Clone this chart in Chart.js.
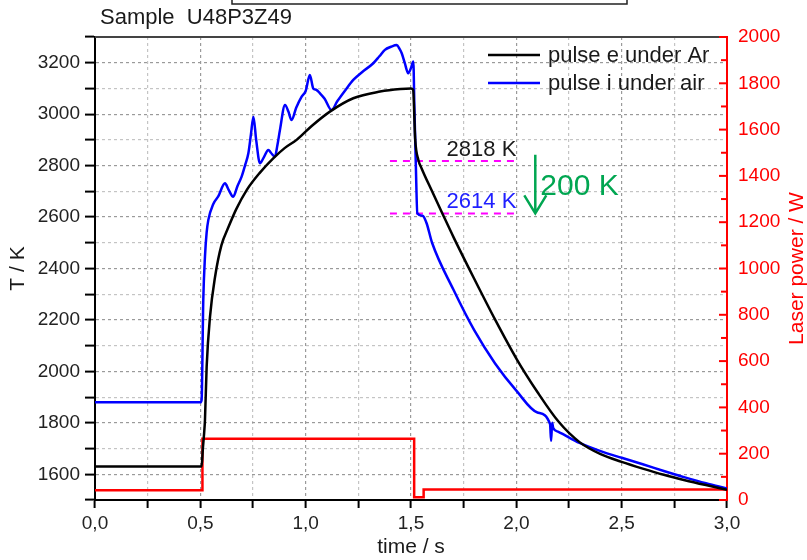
<!DOCTYPE html>
<html>
<head>
<meta charset="utf-8">
<script src="https://cdn.jsdelivr.net/npm/chart.js@4.4.1/dist/chart.umd.min.js"></script>
<style>
  html, body { margin: 0; padding: 0; background: #fff; }
</style>
</head>
<body>
<canvas id="chart" width="807" height="560"></canvas>
<script>
// pulse e under Ar (black trace), time in s, temperature in K
const arTime = [0, 0.506, 0.512, 0.518, 0.522, 0.53, 0.546, 0.57, 0.6, 0.633, 0.67, 0.72, 0.78, 0.846,
  0.9, 0.957, 1.03, 1.115, 1.226, 1.353, 1.45, 1.5, 1.51, 1.52, 1.535, 1.55, 1.6, 1.65, 1.7, 1.8, 1.9, 2.0,
  2.1, 2.2, 2.3, 2.4, 2.5, 2.6, 2.7, 2.8, 2.9, 3.0];
const arTemp = [1630, 1630, 1700, 1760, 1811, 2018, 2213, 2368, 2490, 2560, 2630, 2705, 2770, 2828,
  2868, 2900, 2955, 3010, 3062, 3088, 3098, 3100, 3095, 2900, 2822, 2790, 2700, 2612, 2525, 2360, 2200, 2050,
  1920, 1805, 1725, 1678, 1648, 1622, 1598, 1577, 1558, 1540];

// pulse i under air (blue trace)
const airTime = [0, 0.5, 0.506, 0.514, 0.522, 0.53, 0.538, 0.561, 0.585, 0.617, 0.635, 0.656, 0.676,
  0.696, 0.712, 0.728, 0.74, 0.752, 0.765, 0.783, 0.8, 0.823, 0.835, 0.854, 0.866, 0.878, 0.902, 0.918,
  0.933, 0.955, 0.981, 1.0, 1.02, 1.036, 1.05, 1.068, 1.09, 1.123, 1.15, 1.19, 1.226, 1.27, 1.321, 1.35,
  1.376, 1.405, 1.432, 1.445, 1.456, 1.47, 1.487, 1.5, 1.511, 1.516, 1.523, 1.53, 1.555, 1.574, 1.6,
  1.7, 1.8, 1.9, 2.0, 2.1, 2.16, 2.165, 2.17, 2.175, 2.2, 2.3, 2.4, 2.5, 2.6, 2.7, 2.8, 2.9, 3.0];
const airTemp = [1880, 1880, 1889, 2278, 2446, 2540, 2589, 2650, 2680, 2731, 2705, 2679, 2720,
  2757, 2800, 2848, 2920, 2990, 2900, 2809, 2830, 2861, 2850, 2835, 2880, 2939, 3036, 3010,
  2977, 3025, 3068, 3090, 3152, 3100, 3095, 3081, 3060, 3016, 3050, 3095, 3133, 3165, 3198, 3225,
  3250, 3262, 3269, 3255, 3237, 3200, 3159, 3180, 3205, 3030, 2800, 2615, 2605, 2576, 2500,
  2320, 2160, 2030, 1925, 1840, 1795, 1730, 1800, 1780, 1765, 1722, 1690, 1664, 1639, 1613, 1588, 1565, 1545];

// laser power (red trace, right axis), W
const laserTime = [0, 0.51, 0.51, 1.515, 1.515, 1.56, 1.56, 3.0];
const laserPower = [42, 42, 265, 265, 12, 12, 45, 45];

// reference temperatures marked with dashed lines
const refTemps = [2818, 2614];
const refLabels = ['2818 K', '2614 K'];
const refColors = ['#1a1a1a', '#2020ff'];
const refStart = 1.4;
const refEnd = 2.0;
const dropLabel = '200 K';

const FONT = '"Liberation Sans", Arial, sans-serif';
Chart.defaults.font.family = FONT;

function pts(xs, ys) {
  return xs.map((t, i) => ({ x: t, y: ys[i] }));
}

const datasets = [
  { label: 'pulse e under Ar', data: pts(arTime, arTemp), borderColor: '#000000', borderWidth: 2.5,
    cubicInterpolationMode: 'monotone', yAxisID: 'y' },
  { label: 'pulse i under air', data: pts(airTime, airTemp), borderColor: '#0000ff', borderWidth: 2.5,
    cubicInterpolationMode: 'monotone', yAxisID: 'y' },
  { label: 'laser', data: pts(laserTime, laserPower), borderColor: '#ff0000', borderWidth: 2.5, yAxisID: 'y2' }
];
refTemps.forEach(v => {
  datasets.push({
    label: 'ref', data: [{ x: refStart, y: v }, { x: refEnd, y: v }],
    borderColor: '#ff00ff', borderWidth: 2, borderDash: [7, 6], yAxisID: 'y'
  });
});

const isMajor = (v, step) => Math.abs(v / step - Math.round(v / step)) < 1e-6;

const extras = {
  id: 'extras',
  beforeDraw(chart) {
    const ctx = chart.ctx;
    ctx.save();
    // title
    ctx.fillStyle = '#1a1a1a';
    ctx.font = '22px ' + FONT;
    ctx.textBaseline = 'alphabetic';
    ctx.textAlign = 'left';
    ctx.fillText('Sample  U48P3Z49', 100, 24);
    // box cut off at the top edge
    ctx.strokeStyle = '#222';
    ctx.lineWidth = 1.5;
    ctx.beginPath();
    ctx.moveTo(232, 0); ctx.lineTo(232, 4); ctx.lineTo(627, 4); ctx.lineTo(627, 0);
    ctx.stroke();
    ctx.restore();
  },
  afterDraw(chart) {
    const { ctx, chartArea: a, scales } = chart;
    const x = scales.x, y = scales.y, y2 = scales.y2;
    ctx.save();
    // top frame
    ctx.strokeStyle = '#444';
    ctx.lineWidth = 2;
    ctx.beginPath(); ctx.moveTo(a.left, a.top); ctx.lineTo(a.right, a.top); ctx.stroke();
    // inward ticks on the laser axis
    ctx.strokeStyle = '#ff0000';
    y2.ticks.forEach(t => {
      const py = y2.getPixelForValue(t.value);
      const len = isMajor(t.value, 200) ? 8 : 6;
      ctx.beginPath(); ctx.moveTo(a.right - len, py); ctx.lineTo(a.right, py); ctx.stroke();
    });
    // laser axis title, reading bottom to top
    ctx.save();
    ctx.translate(797, (a.top + a.bottom) / 2);
    ctx.rotate(-Math.PI / 2);
    ctx.fillStyle = '#ff0000';
    ctx.font = '21px ' + FONT;
    ctx.textAlign = 'center';
    ctx.textBaseline = 'middle';
    ctx.fillText('Laser power / W', 0, 0);
    ctx.restore();

    // reference labels
    ctx.font = '22px ' + FONT;
    ctx.textAlign = 'right';
    ctx.textBaseline = 'alphabetic';
    refTemps.forEach((v, i) => {
      ctx.fillStyle = refColors[i];
      ctx.fillText(refLabels[i], x.getPixelForValue(refEnd), y.getPixelForValue(v) - 5);
    });

    // green arrow and drop label
    const ax = x.getPixelForValue(2.09);
    const top = y.getPixelForValue(2842);
    const tip = y.getPixelForValue(refTemps[1]);
    ctx.strokeStyle = '#00a651';
    ctx.fillStyle = '#00a651';
    ctx.lineWidth = 2.5;
    ctx.beginPath();
    ctx.moveTo(ax, top); ctx.lineTo(ax, tip);
    ctx.moveTo(ax - 11, tip - 18); ctx.lineTo(ax, tip); ctx.lineTo(ax + 11, tip - 18);
    ctx.stroke();
    ctx.font = '30px ' + FONT;
    ctx.textAlign = 'left';
    ctx.fillText(dropLabel, ax + 5, (top + tip) / 2 + 11);

    // legend inside the plot
    ctx.font = '22px ' + FONT;
    ctx.textBaseline = 'middle';
    [0, 1].forEach((di, i) => {
      const ds = chart.data.datasets[di];
      const ly = a.top + 18 + i * 28;
      ctx.strokeStyle = ds.borderColor;
      ctx.lineWidth = 2.5;
      ctx.beginPath(); ctx.moveTo(a.right - 239, ly); ctx.lineTo(a.right - 187, ly); ctx.stroke();
      ctx.fillStyle = '#1a1a1a';
      ctx.fillText(ds.label, a.right - 179, ly + 1);
    });
    ctx.restore();
  }
};

new Chart(document.getElementById('chart'), {
  type: 'line',
  data: { datasets: datasets },
  options: {
    responsive: false,
    animation: false,
    elements: { point: { radius: 0 }, line: { tension: 0, fill: false } },
    layout: { padding: { top: 37, left: 0, right: 0, bottom: 0 } },
    plugins: { legend: { display: false }, tooltip: { enabled: false }, title: { display: false } },
    scales: {
      x: {
        type: 'linear', min: 0, max: 3,
        afterFit: s => { s.height = 60; },
        ticks: {
          stepSize: 0.25, autoSkip: false, maxRotation: 0, color: '#222', padding: 4,
          font: { size: 19 },
          callback: v => isMajor(v, 0.5) ? v.toFixed(1).replace('.', ',') : ''
        },
        grid: {
          color: c => isMajor(c.tick.value, 0.5) ? '#9a9a9a' : '#c4c4c4',
          lineWidth: 1.2, tickColor: '#000', tickLength: 8, tickWidth: 2, tickBorderDash: []
        },
        border: { color: '#000', width: 2, dash: [3, 3] },
        title: { display: true, text: 'time / s', color: '#1a1a1a', font: { size: 21 }, padding: { top: 0, bottom: 0 } }
      },
      y: {
        position: 'left', min: 1500, max: 3300,
        afterFit: s => { s.width = 95; },
        ticks: {
          stepSize: 100, autoSkip: false, color: '#222', padding: 5, font: { size: 19 },
          callback: v => isMajor(v, 200) ? String(v) : ''
        },
        grid: {
          color: c => isMajor(c.tick.value, 200) ? '#9a9a9a' : '#c4c4c4',
          lineWidth: 1.2, tickColor: '#000', tickLength: 10, tickWidth: 2, tickBorderDash: []
        },
        border: { color: '#000', width: 2, dash: [3, 3] },
        title: { display: true, text: 'T / K', color: '#1a1a1a', font: { size: 21 }, padding: { top: 6, bottom: 0 } }
      },
      y2: {
        position: 'right', min: 0, max: 2000,
        afterFit: s => { s.width = 80; },
        ticks: {
          stepSize: 100, autoSkip: false, color: '#ff0000', padding: 11, font: { size: 19 },
          callback: v => isMajor(v, 200) ? String(v) : ''
        },
        grid: { drawOnChartArea: false, drawTicks: false },
        border: { color: '#ff0000', width: 2 },
        title: { display: false }
      }
    }
  },
  plugins: [extras]
});
</script>
</body>
</html>
